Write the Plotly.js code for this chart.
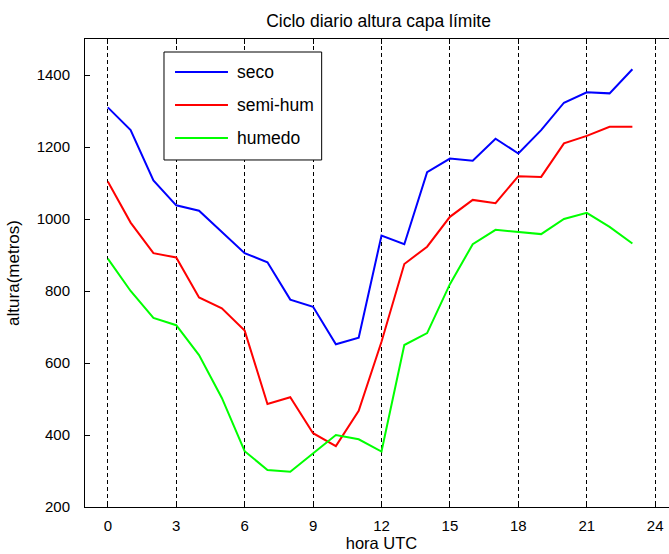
<!DOCTYPE html>
<html>
<head>
<meta charset="utf-8">
<script src="https://cdn.plot.ly/plotly-3.0.1.min.js"></script>
<style>
  html, body { margin: 0; padding: 0; background: #fff; overflow: hidden; }
  #chart { width: 700px; height: 554px; }
</style>
</head>
<body>
<div id="chart"></div>
<script>
// Hour of day (UTC)
const horas = [0,1,2,3,4,5,6,7,8,9,10,11,12,13,14,15,16,17,18,19,20,21,22,23];

// Boundary-layer height (m) for each regime
const seco    = [1310,1247,1107,1038,1023,965,905,880,776,756,652,670,954,930,1130,1168,1162,1223,1182,1247,1323,1352,1349,1416];
const semiHum = [1104,990,905,893,782,752,690,486,505,405,369,467,659,875,923,1006,1053,1044,1119,1117,1210,1231,1256,1256];
const humedo  = [890,800,725,705,622,503,355,303,298,349,400,388,354,650,683,819,930,970,964,958,1000,1017,978,932];

const nombres = ['seco', 'semi-hum', 'humedo'];
const colores = ['#0000ff', '#ff0000', '#00ff00'];
const series  = [seco, semiHum, humedo];

const xTicks = [0,3,6,9,12,15,18,21,24];
const yTicks = [200,400,600,800,1000,1200,1400];

const FONT = 'Liberation Sans, Arial, sans-serif';

const traces = series.map((ys, i) => ({
  x: horas,
  y: ys,
  type: 'scatter',
  mode: 'lines',
  name: nombres[i],
  line: { color: colores[i], width: 2 },
  showlegend: false,
  hoverinfo: 'skip'
}));

// Boxed legend drawn in paper coordinates
const legBox = { x0: 0.1332, x1: 0.3991, y0: 0.7415, y1: 0.9722 };
const legRows = [0.9295, 0.8590, 0.7885];
const shapes = [{
  type: 'rect', xref: 'paper', yref: 'paper',
  x0: legBox.x0, x1: legBox.x1, y0: legBox.y0, y1: legBox.y1,
  line: { color: '#000', width: 1 }, fillcolor: '#fff', layer: 'above'
}];
const annotations = [];
nombres.forEach((n, i) => {
  shapes.push({
    type: 'line', xref: 'paper', yref: 'paper',
    x0: 0.1518, x1: 0.2411, y0: legRows[i], y1: legRows[i],
    line: { color: colores[i], width: 2 }, layer: 'above'
  });
  annotations.push({
    xref: 'paper', yref: 'paper', x: 0.2530, y: legRows[i],
    xanchor: 'left', yanchor: 'middle', showarrow: false,
    text: n, font: { family: FONT, size: 17.5, color: '#000' }
  });
});

const layout = {
  width: 700,
  height: 554,
  margin: { l: 85, r: 22, t: 39, b: 47 },
  paper_bgcolor: '#fff',
  plot_bgcolor: '#fff',
  font: { family: FONT, size: 12, color: '#000' },
  title: {
    text: 'Ciclo diario altura capa límite',
    font: { family: FONT, size: 17.5, color: '#000' },
    xref: 'paper', x: 0.495, xanchor: 'center',
    yref: 'container', y: 0.963, yanchor: 'middle'
  },
  xaxis: {
    range: [-1, 25],
    tickvals: xTicks,
    ticktext: xTicks.map(String),
    ticks: 'inside', ticklen: 5, tickcolor: '#000',
    showline: true, linecolor: '#000', linewidth: 1, mirror: 'ticks',
    showgrid: true, gridcolor: '#000', gridwidth: 1, griddash: '4px,3px',
    zeroline: false,
    ticklabelstandoff: 5,
    tickfont: { family: FONT, size: 15, color: '#000' },
    title: { text: 'hora UTC', font: { family: FONT, size: 16.5, color: '#000' }, standoff: 0 }
  },
  yaxis: {
    range: [200, 1500],
    tickvals: yTicks,
    ticktext: yTicks.map(String),
    ticks: 'inside', ticklen: 5, tickcolor: '#000',
    showline: true, linecolor: '#000', linewidth: 1, mirror: 'ticks',
    showgrid: false,
    zeroline: false,
    ticklabelstandoff: 11,
    tickfont: { family: FONT, size: 15, color: '#000' },
    title: { text: 'altura(metros)', font: { family: FONT, size: 17, color: '#000' }, standoff: 12 }
  },
  shapes: shapes,
  annotations: annotations
};

Plotly.newPlot('chart', traces, layout, { staticPlot: true, displayModeBar: false });
</script>
</body>
</html>
